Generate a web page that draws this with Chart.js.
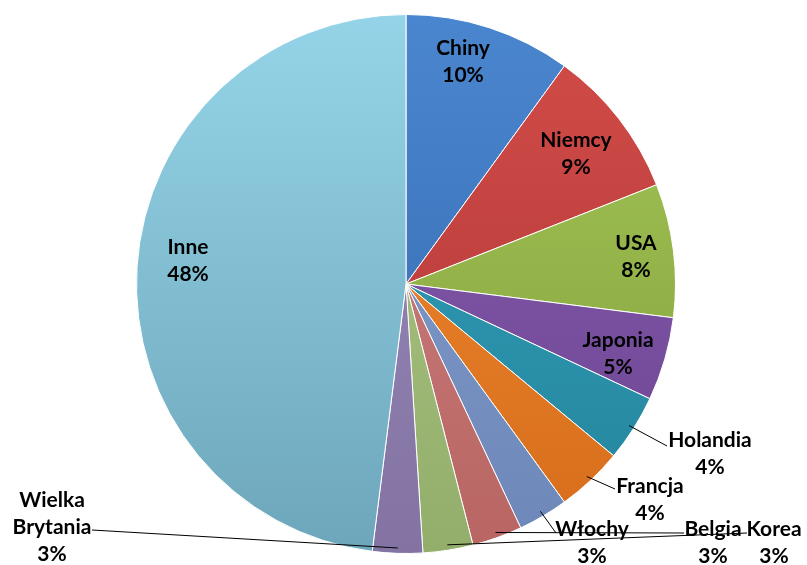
<!DOCTYPE html>
<html lang="pl">
<head>
  <meta charset="UTF-8" />
  <title>Udział krajów</title>
  <script src="https://cdn.jsdelivr.net/npm/chart.js"></script>
  <style>
    body {
      margin: 0;
      background: #fff;
    }
    #wrap {
      width: 807px;
      height: 565px;
    }
  </style>
</head>
<body>
  <div id="wrap">
    <canvas id="pie" width="807" height="565"></canvas>
  </div>

  <script>
    // dane
    const kraje = ['Chiny', 'Niemcy', 'USA', 'Japonia', 'Holandia', 'Francja',
                   'Włochy', 'Belgia', 'Korea', 'Wielka Brytania', 'Inne'];
    const udzialy = [10, 9, 8, 5, 4, 4, 3, 3, 3, 3, 48];

    // kolory: góra / dół gradientu
    const koloryGora = ['#4a86cf', '#d24c49', '#a6c75a', '#8a60b2', '#36a3bd', '#f08a35',
                        '#859fcf', '#d08584', '#afc988', '#9c8dbb', '#95d4e8'];
    const koloryDol  = ['#3468ad', '#ae3634', '#809f39', '#6a4390', '#23849c', '#d76d1a',
                        '#6d88b8', '#b86563', '#93ad6b', '#8373a3', '#6da6ba'];

    // położenie etykiet (środek tekstu) i punkt załamania linii odniesienia
    const etykiety = [
      { x: 463, y: 48 },
      { x: 576, y: 140 },
      { x: 636, y: 243 },
      { x: 618, y: 340 },
      { x: 710, y: 440, lx: 667, ly: 446 },
      { x: 650, y: 486, lx: 615, ly: 489 },
      { x: 592, y: 529, lx: 556, ly: 533 },
      { x: 713, y: 529, lx: 684, ly: 533 },
      { x: 774, y: 529, lx: 747, ly: 533 },
      { x: 52, y: 500, lx: 92, ly: 530, lines: ['Wielka', 'Brytania'] },
      { x: 188, y: 247 }
    ];

    const font = 'bold 21px Lato, "Open Sans", sans-serif';

    const etykietyPlugin = {
      id: 'etykiety',
      afterDatasetsDraw(chart) {
        const c = chart.ctx;
        const meta = chart.getDatasetMeta(0);
        c.save();
        c.font = font;
        c.fillStyle = '#000';
        c.textAlign = 'center';
        c.textBaseline = 'middle';
        meta.data.forEach((arc, i) => {
          const e = etykiety[i];
          const lines = (e.lines || [kraje[i]]).concat([udzialy[i] + '%']);
          if (e.lx !== undefined) {
            // linia odniesienia od krawędzi wycinka
            const mid = (arc.startAngle + arc.endAngle) / 2;
            const sx = arc.x + Math.cos(mid) * arc.outerRadius * 0.98;
            const sy = arc.y + Math.sin(mid) * arc.outerRadius * 0.98;
            c.strokeStyle = '#000';
            c.lineWidth = 1;
            c.beginPath();
            c.moveTo(sx, sy);
            c.lineTo(e.lx, e.ly);
            c.stroke();
          }
          const lh = 27;
          lines.forEach((t, k) => c.fillText(t, e.x, e.y + k * lh));
        });
        c.restore();
      }
    };

    function gradient(context) {
      const chart = context.chart;
      const area = chart.chartArea;
      if (!area) return koloryGora[context.dataIndex];
      const i = context.dataIndex;
      const g = chart.ctx.createLinearGradient(0, area.top, 0, area.bottom);
      g.addColorStop(0, koloryGora[i]);
      g.addColorStop(1, koloryDol[i]);
      return g;
    }

    new Chart(document.getElementById('pie'), {
      type: 'pie',
      data: {
        labels: kraje,
        datasets: [{
          data: udzialy,
          backgroundColor: gradient,
          borderColor: '#ffffff',
          borderWidth: 1
        }]
      },
      options: {
        responsive: false,
        animation: false,
        layout: { padding: { top: 14, bottom: 11, left: 5, right: 0 } },
        plugins: {
          legend: { display: false },
          tooltip: { enabled: false }
        }
      },
      plugins: [etykietyPlugin]
    });
  </script>
</body>
</html>
